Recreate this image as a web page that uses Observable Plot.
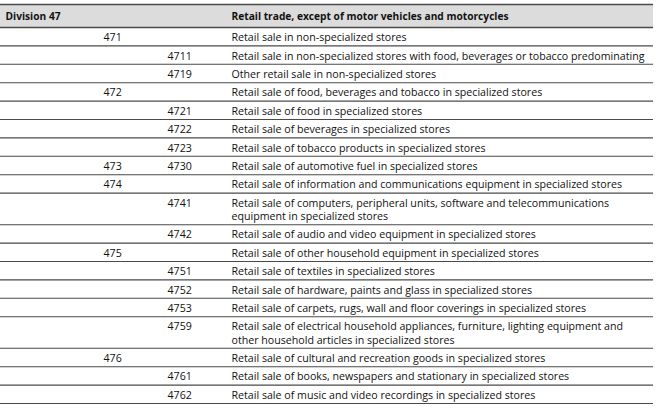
<!DOCTYPE html>
<html><head><meta charset="utf-8">
<script src="https://cdn.jsdelivr.net/npm/d3@7"></script>
<script src="https://cdn.jsdelivr.net/npm/@observablehq/plot@0.6"></script>
<style>body{margin:0;background:#fff}</style>
</head><body><div id="chart"></div>
<script>
// ---- data ----
const headerLabels = ["Division 47", "Retail trade, except of motor vehicles and motorcycles"];
const groupCodes = ["471","","","472","","","","473","474","","","475","","","","","476","",""];
const classCodes = ["","4711","4719","","4721","4722","4723","4730","","4741","4742","","4751","4752","4753","4759","","4761","4762"];
const descriptions = [
  "Retail sale in non-specialized stores",
  "Retail sale in non-specialized stores with food, beverages or tobacco predominating",
  "Other retail sale in non-specialized stores",
  "Retail sale of food, beverages and tobacco in specialized stores",
  "Retail sale of food in specialized stores",
  "Retail sale of beverages in specialized stores",
  "Retail sale of tobacco products in specialized stores",
  "Retail sale of automotive fuel in specialized stores",
  "Retail sale of information and communications equipment in specialized stores",
  "Retail sale of computers, peripheral units, software and telecommunications\nequipment in specialized stores",
  "Retail sale of audio and video equipment in specialized stores",
  "Retail sale of other household equipment in specialized stores",
  "Retail sale of textiles in specialized stores",
  "Retail sale of hardware, paints and glass in specialized stores",
  "Retail sale of carpets, rugs, wall and floor coverings in specialized stores",
  "Retail sale of electrical household appliances, furniture, lighting equipment and\nother household articles in specialized stores",
  "Retail sale of cultural and recreation goods in specialized stores",
  "Retail sale of books, newspapers and stationary in specialized stores",
  "Retail sale of music and video recordings in specialized stores"
];

// ---- layout (in table units) ----
const W = 664, H = 416;
const TABLE_TOP = 4, TABLE_RIGHT = 653;
const HEADER_H = 23, ROW_H = 18.4, EXTRA_LINE = 13.2;
const colX = {division: 5, group: 103, cls: 167, desc: 231};
const FONT = '"Open Sans", sans-serif', FS = 10.65, INK = "#111";

// build rows
let acc = HEADER_H;
const rows = descriptions.map((d, i) => {
  const lines = d.split("\n");
  const top = acc;
  const h = ROW_H + (lines.length - 1) * EXTRA_LINE;
  acc += h;
  return {i, group: groupCodes[i], cls: classCodes[i], lines, top, bottom: acc};
});
const total = acc;
const boundaries = [0, HEADER_H, ...rows.map(r => r.bottom)];
const textLines = rows.flatMap(r => r.lines.map((t, k) => ({text: t, y: r.top + ROW_H / 2 + k * EXTRA_LINE})));
const groupCells = rows.filter(r => r.group).map(r => ({text: r.group, y: r.top + ROW_H / 2}));
const classCells = rows.filter(r => r.cls).map(r => ({text: r.cls, y: r.top + ROW_H / 2}));
const headerCells = [
  {text: headerLabels[0], x: colX.division, y: HEADER_H / 2},
  {text: headerLabels[1], x: colX.desc, y: HEADER_H / 2}
];

const bodyText = {textAnchor: "start", fill: INK, fontSize: FS, fontWeight: 500, dy: 1};

const chart = Plot.plot({
  width: W, height: H,
  margin: 0,
  style: {fontFamily: FONT, fontSize: FS + "px", background: "#fff"},
  x: {domain: [0, W], range: [0, W], axis: null},
  y: {domain: [0, total], range: [TABLE_TOP, TABLE_TOP + total], axis: null},
  marks: [
    Plot.rect([{}], {x1: 0, x2: TABLE_RIGHT, y1: 0, y2: HEADER_H, fill: "#dcdcdc"}),
    Plot.ruleY(boundaries, {x1: 0, x2: TABLE_RIGHT, stroke: "#4a4a4a", strokeWidth: (d, i) => i < 2 ? 1.4 : 1.1}),
    Plot.text(headerCells, {x: "x", y: "y", text: "text", textAnchor: "start", fontWeight: 700, fill: INK, fontSize: 10.2, dy: 0.5}),
    Plot.text(groupCells, {x: () => colX.group, y: "y", text: "text", ...bodyText}),
    Plot.text(classCells, {x: () => colX.cls, y: "y", text: "text", ...bodyText}),
    Plot.text(textLines, {x: () => colX.desc, y: "y", text: "text", ...bodyText})
  ]
});
document.getElementById("chart").append(chart);
</script></body></html>
